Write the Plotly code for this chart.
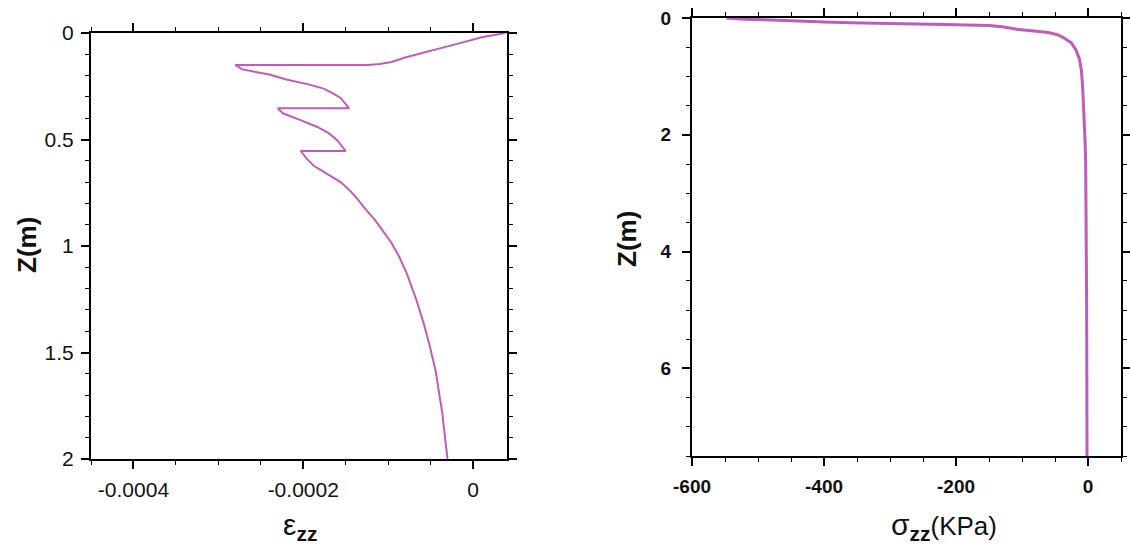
import plotly.graph_objects as go

# ---- Left panel: vertical strain vs depth ----
strain_eps = [0.000038, 0.00001, -0.000012, -0.000035, -0.00006, -0.00008, -0.000096,
              -0.00011, -0.000124, -0.00028, -0.000272, -0.00024, -0.00022, -0.000195,
              -0.000176, -0.000165, -0.000156, -0.000146, -0.00023, -0.000224, -0.000204,
              -0.000184, -0.00017, -0.00016, -0.00015, -0.000203, -0.000196, -0.000188,
              -0.000172, -0.000156, -0.000145, -0.000136, -0.000126, -0.000116, -0.000106,
              -0.000096, -0.000087, -0.000078, -0.000067, -0.000058, -0.000051, -0.000044,
              -0.00004, -0.000036, -0.000033, -0.00003]
depth_eps = [0.0, 0.02, 0.044, 0.068, 0.092, 0.115, 0.136,
             0.146, 0.150, 0.150, 0.171, 0.195, 0.218, 0.24,
             0.261, 0.283, 0.305, 0.353, 0.353, 0.377, 0.408,
             0.44, 0.47, 0.503, 0.554, 0.554, 0.59, 0.622,
             0.661, 0.70, 0.74, 0.78, 0.83, 0.875, 0.93,
             0.986, 1.05, 1.13, 1.25, 1.365, 1.47, 1.587,
             1.69, 1.79, 1.9, 2.0]

# ---- Right panel: vertical stress vs depth ----
stress_sig = [-548, -520, -480, -440, -400, -360, -300, -250, -200, -150, -130, -110,
              -85, -60, -45, -35, -25, -18, -13, -10, -8, -6, -4.5, -3.5, -3, -2.5,
              -2, -1.8, -1.5]
depth_sig = [0.0, 0.02, 0.035, 0.055, 0.07, 0.08, 0.09, 0.1, 0.115, 0.13, 0.15, 0.19,
             0.22, 0.25, 0.29, 0.35, 0.43, 0.55, 0.7, 0.9, 1.2, 1.6, 2.1, 2.5, 3.0, 4.0,
             5.0, 6.0, 7.5]

# tick labels
eps_tickvals = [-0.0004, -0.0002, 0]
eps_ticktext = ["-0.0004", "-0.0002", "0"]
z1_tickvals = [0, 0.5, 1, 1.5, 2]
z1_ticktext = ["0", "0.5", "1", "1.5", "2"]
sig_tickvals = [-600, -400, -200, 0]
sig_ticktext = ["-600", "-400", "-200", "0"]
z2_tickvals = [0, 2, 4, 6]
z2_ticktext = ["0", "2", "4", "6"]

LINE = "#c25abe"
W, H = 1130, 546
FONT = "Liberation Sans, Arial, sans-serif"

fig = go.Figure()
fig.add_trace(go.Scatter(x=strain_eps, y=depth_eps, mode="lines",
                         line=dict(color=LINE, width=2, shape="linear"),
                         xaxis="x", yaxis="y", showlegend=False))
fig.add_trace(go.Scatter(x=stress_sig, y=depth_sig, mode="lines",
                         line=dict(color=LINE, width=3), xaxis="x2", yaxis="y2",
                         showlegend=False))


def ax(domain, rng, tickvals, ticktext, minor_dtick, minor_tick0, font, anchor, standoff=2):
    return dict(domain=domain, range=rng, tickmode="array", tickvals=tickvals,
                ticktext=ticktext, showline=True, linecolor="black", linewidth=2,
                mirror="allticks", ticks="outside", ticklen=8, tickwidth=2,
                tickcolor="black", showgrid=False, zeroline=False, tickfont=font,
                anchor=anchor, ticklabelstandoff=standoff, automargin=False,
                minor=dict(ticks="outside", ticklen=4, tickwidth=1, tickcolor="black",
                           tickmode="linear", dtick=minor_dtick, tick0=minor_tick0,
                           showgrid=False))


font_left = dict(family=FONT, size=21, color="#111111")
font_right = dict(family=FONT, size=19, color="#111111", weight="bold")

fig.update_layout(
    width=W, height=H, margin=dict(l=0, r=0, t=0, b=0, autoexpand=False),
    paper_bgcolor="white", plot_bgcolor="white",
    xaxis=ax([91 / W, 507 / W], [-0.00045, 0.00004], eps_tickvals, eps_ticktext,
             0.00005, 0, font_left, "y", 3),
    yaxis=ax([1 - 459 / H, 1 - 33 / H], [2, 0], z1_tickvals, z1_ticktext,
             0.1, 0, font_left, "x", 3),
    xaxis2=ax([692 / W, 1121 / W], [-600, 50], sig_tickvals, sig_ticktext,
              50, 0, font_right, "y2", 4),
    yaxis2=ax([1 - 456 / H, 1 - 18 / H], [7.5, 0], z2_tickvals, z2_ticktext,
              0.5, 0, font_right, "x2", 7),
)

annots = [
    dict(text="<b>Z(m)</b>", x=27 / W, y=1 - 245 / H, textangle=-90,
         font=dict(family=FONT, size=26, color="#111111")),
    dict(text="<b>Z(m)</b>", x=627 / W, y=1 - 239 / H, textangle=-90,
         font=dict(family=FONT, size=26, color="#111111")),
    dict(text="ε<sub><b>zz</b></sub>", x=300 / W, y=1 - 526 / H,
         font=dict(family=FONT, size=30, color="#111111")),
    dict(text="σ<sub><b>zz</b></sub><span style='font-size:26px'>(KPa)</span>",
         x=944 / W, y=1 - 526 / H,
         font=dict(family=FONT, size=30, color="#111111")),
]
for a in annots:
    fig.add_annotation(xref="paper", yref="paper", showarrow=False,
                       xanchor="center", yanchor="middle", **a)

fig.write_html("out.html")
